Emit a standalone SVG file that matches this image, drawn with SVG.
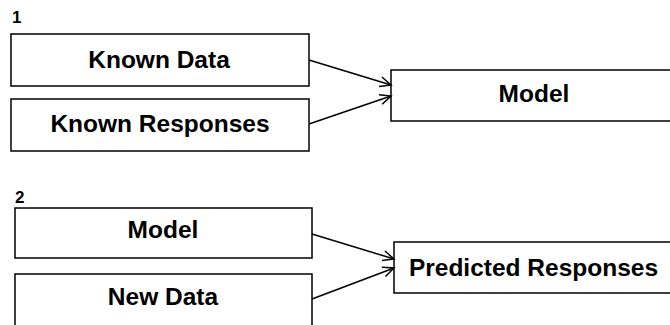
<svg xmlns="http://www.w3.org/2000/svg" width="670" height="325" viewBox="0 0 670 325">
<defs>
<style>
.box{fill:#fff;stroke:#000;stroke-width:1.5}
.lbl{font-family:"Liberation Sans",Arial,sans-serif;font-weight:bold;font-size:24.5px;fill:#000;text-anchor:middle}
.num{font-family:"Liberation Sans",Arial,sans-serif;font-weight:bold;font-size:17px;fill:#000}
.edge{fill:none;stroke:#000;stroke-width:1.5;marker-end:url(#arr)}
</style>
<marker id="arr" markerUnits="userSpaceOnUse" markerWidth="14" markerHeight="14" refX="12" refY="6" orient="auto" viewBox="0 0 14 12">
<path d="M1,1 L12,6 L1,11" fill="none" stroke="#000" stroke-width="1.5"/>
</marker>
</defs>
<rect width="670" height="325" fill="#fff"/>
<text class="num" x="12" y="23">1</text>
<text class="num" x="15" y="203">2</text>
<g id="known-data"><rect class="box" x="11" y="34" width="298" height="52"/><text class="lbl" x="159" y="68">Known Data</text></g>
<g id="known-responses"><rect class="box" x="11" y="99" width="298" height="52"/><text class="lbl" x="160" y="132">Known Responses</text></g>
<g id="model1"><rect class="box" x="391" y="70" width="290" height="51"/><text class="lbl" x="534" y="102">Model</text></g>
<g id="model2"><rect class="box" x="15" y="208" width="297" height="50"/><text class="lbl" x="163" y="238">Model</text></g>
<g id="new-data"><rect class="box" x="15" y="274" width="297" height="60"/><text class="lbl" x="163" y="305">New Data</text></g>
<g id="predicted"><rect class="box" x="394" y="242" width="290" height="51"/><text class="lbl" x="533.5" y="276">Predicted Responses</text></g>
<g id="connectors">
<path class="edge" d="M309,60 L391,85"/>
<path class="edge" d="M309,124 L391,96"/>
<path class="edge" d="M312,234 L394,259"/>
<path class="edge" d="M312,299 L394,268"/>
</g>
</svg>
